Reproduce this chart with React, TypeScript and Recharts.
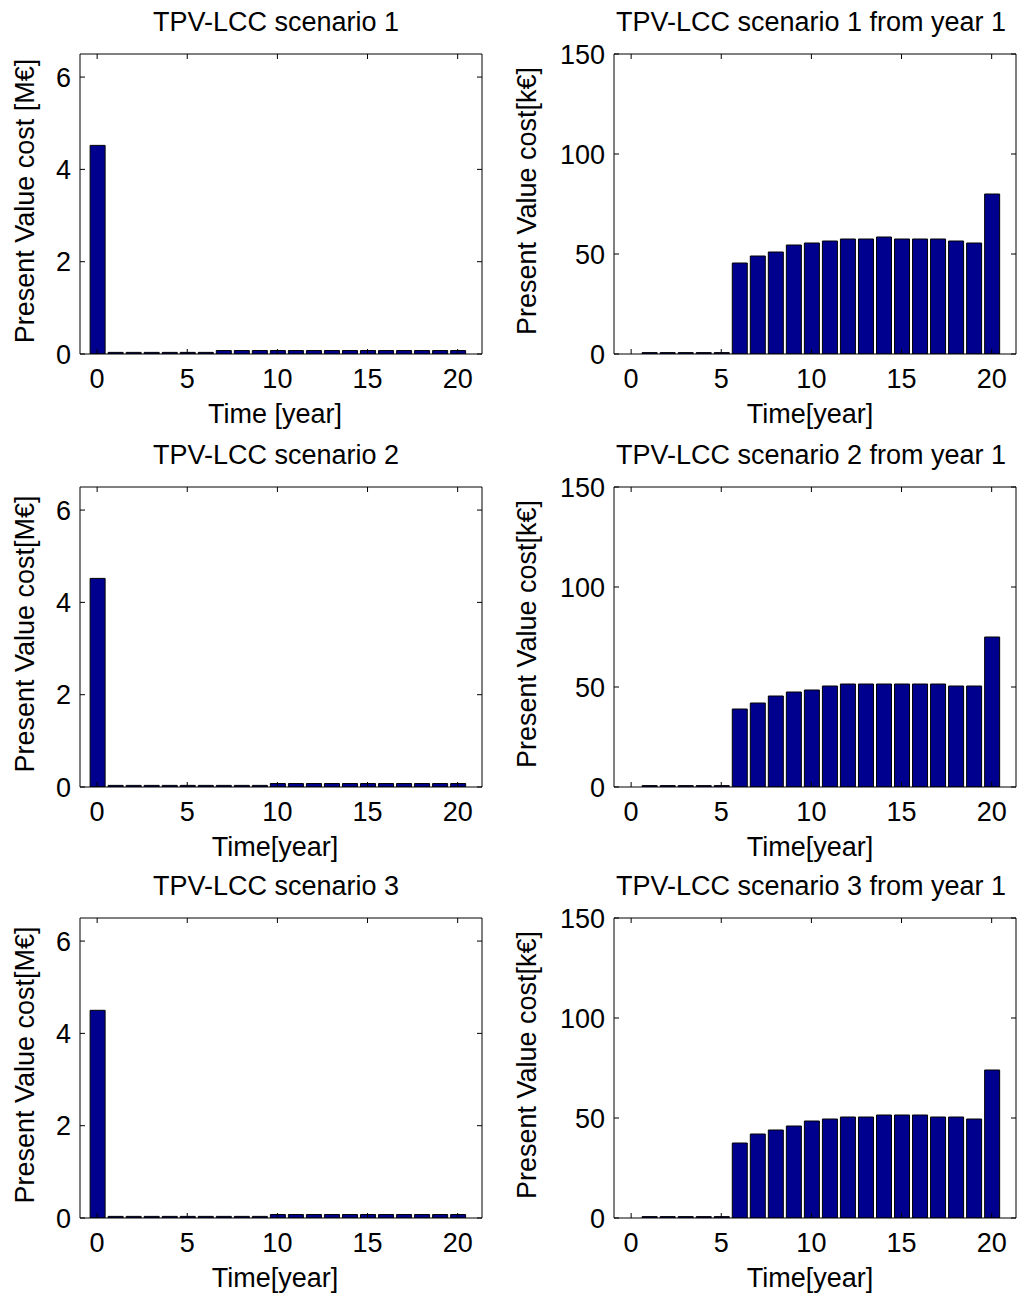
import React from 'react';
import { BarChart, Bar, XAxis, YAxis } from 'recharts';

const years = [0, 1, 2, 3, 4, 5, 6, 7, 8, 9, 10, 11, 12, 13, 14, 15, 16, 17, 18, 19, 20];
const xTicks = [0, 5, 10, 15, 20];
const mTicks = [0, 2, 4, 6];
const kTicks = [0, 50, 100, 150];

// Present value cost per year, M€ (left column)
const s1Total = [4.52, 0.035, 0.035, 0.035, 0.035, 0.035, 0.035, 0.075, 0.075, 0.075, 0.075, 0.075, 0.075, 0.075, 0.075, 0.075, 0.075, 0.075, 0.075, 0.075, 0.075];
const s2Total = [4.52, 0.035, 0.035, 0.035, 0.035, 0.035, 0.035, 0.035, 0.035, 0.035, 0.075, 0.075, 0.075, 0.075, 0.075, 0.075, 0.075, 0.075, 0.075, 0.075, 0.075];
const s3Total = [4.5, 0.035, 0.035, 0.035, 0.035, 0.035, 0.035, 0.035, 0.035, 0.035, 0.075, 0.075, 0.075, 0.075, 0.075, 0.075, 0.075, 0.075, 0.075, 0.075, 0.075];

// Present value cost from year 1, k€ (right column)
const s1From1 = [0, 0.7, 0.7, 0.7, 0.7, 0.7, 45.5, 49, 51, 54.5, 55.5, 56.5, 57.5, 57.5, 58.5, 57.5, 57.5, 57.5, 56.5, 55.5, 80];
const s2From1 = [0, 0.7, 0.7, 0.7, 0.7, 0.7, 39, 42, 45.5, 47.5, 48.5, 50.5, 51.5, 51.5, 51.5, 51.5, 51.5, 51.5, 50.5, 50.5, 75];
const s3From1 = [0, 0.7, 0.7, 0.7, 0.7, 0.7, 37.5, 42, 44, 46, 48.5, 49.5, 50.5, 50.5, 51.5, 51.5, 51.5, 50.5, 50.5, 49.5, 74];

const titlesLeft = ['TPV-LCC scenario 1', 'TPV-LCC scenario 2', 'TPV-LCC scenario 3'];
const titlesRight = ['TPV-LCC scenario 1 from year 1', 'TPV-LCC scenario 2 from year 1', 'TPV-LCC scenario 3 from year 1'];
const yLabelsLeft = ['Present Value cost [M€]', 'Present Value cost[M€]', 'Present Value cost[M€]'];
const yLabelRight = 'Present Value cost[k€]';
const xLabelsLeft = ['Time [year]', 'Time[year]', 'Time[year]'];
const xLabelRight = 'Time[year]';

const FONT = '"Liberation Sans", Arial, Helvetica, sans-serif';
const FS = 27;
const BAR_FILL = '#00008F';
const X_DOMAIN: [number, number] = [-0.95, 21.35];
const TICK_LEN = 5;

const rowTops = [54, 487, 918];
const colLefts = [80, 614];
const PLOT_W = 402;
const PLOT_H = 300;
const TOP_PAD = 20;

const toRows = (vals: number[]) => years.map((y, i) => ({ year: y, value: vals[i] }));

// Inward tick marks (MATLAB style) drawn from the tick anchor given by Recharts
const BottomTick = (props: any) => {
  const { x, y, payload } = props;
  return (
    <g>
      <line x1={x} y1={y} x2={x} y2={y - TICK_LEN} stroke="#000" strokeWidth={1} />
      <text x={x} y={y + 15} dy="0.71em" textAnchor="middle" fontSize={FS} fontFamily={FONT} fill="#000">
        {payload.value}
      </text>
    </g>
  );
};
const TopTick = (props: any) => {
  const { x, y } = props;
  return <line x1={x} y1={y} x2={x} y2={y + TICK_LEN} stroke="#000" strokeWidth={1} />;
};
const LeftTick = (props: any) => {
  const { x, y, payload } = props;
  return (
    <g>
      <line x1={x} y1={y} x2={x + TICK_LEN} y2={y} stroke="#000" strokeWidth={1} />
      <text x={x - 9} y={y} dy="0.355em" textAnchor="end" fontSize={FS} fontFamily={FONT} fill="#000">
        {payload.value}
      </text>
    </g>
  );
};
const RightTick = (props: any) => {
  const { x, y } = props;
  return <line x1={x} y1={y} x2={x - TICK_LEN} y2={y} stroke="#000" strokeWidth={1} />;
};

type PanelProps = {
  plotLeft: number;
  plotTop: number;
  values: number[];
  yDomain: [number, number];
  yTicks: number[];
};

function Panel({ plotLeft, plotTop, values, yDomain, yTicks }: PanelProps) {
  const data = toRows(values);
  const axisLine = { stroke: '#000', strokeWidth: 1 };
  return (
    <div style={{ position: 'absolute', left: plotLeft - 80, top: plotTop - TOP_PAD }}>
      <BarChart
        width={80 + PLOT_W + 1 + 2}
        height={TOP_PAD + PLOT_H + 60}
        data={data}
        margin={{ top: TOP_PAD - 1, right: 2, bottom: 0, left: 0 }}
      >
        <XAxis
          xAxisId="b"
          dataKey="year"
          type="number"
          domain={X_DOMAIN}
          ticks={xTicks}
          allowDataOverflow
          orientation="bottom"
          height={60}
          tickSize={0}
          tickMargin={0}
          tickLine={false}
          tick={<BottomTick />}
          axisLine={axisLine}
          interval={0}
        />
        <XAxis
          xAxisId="t"
          dataKey="year"
          type="number"
          domain={X_DOMAIN}
          ticks={xTicks}
          allowDataOverflow
          orientation="top"
          height={1}
          tickSize={0}
          tickMargin={0}
          tickLine={false}
          tick={<TopTick />}
          axisLine={axisLine}
          interval={0}
        />
        <YAxis
          yAxisId="l"
          type="number"
          domain={yDomain}
          ticks={yTicks}
          allowDataOverflow
          orientation="left"
          width={80}
          tickSize={0}
          tickMargin={0}
          tickLine={false}
          tick={<LeftTick />}
          axisLine={axisLine}
          interval={0}
        />
        <YAxis
          yAxisId="r"
          type="number"
          domain={yDomain}
          ticks={yTicks}
          allowDataOverflow
          orientation="right"
          width={1}
          tickSize={0}
          tickMargin={0}
          tickLine={false}
          tick={<RightTick />}
          axisLine={axisLine}
          interval={0}
        />
        <Bar
          xAxisId="b"
          yAxisId="l"
          dataKey="value"
          fill={BAR_FILL}
          stroke="#000"
          strokeWidth={1}
          barSize={15}
          isAnimationActive={false}
        />
      </BarChart>
    </div>
  );
}

function Txt({ x, y, text, rotate }: { x: number; y: number; text: string; rotate?: boolean }) {
  return (
    <div
      style={{
        position: 'absolute',
        left: x,
        top: y,
        transform: `translate(-50%, -50%)${rotate ? ' rotate(-90deg)' : ''}`,
        fontFamily: FONT,
        fontSize: FS,
        lineHeight: 1,
        whiteSpace: 'nowrap',
        color: '#000',
      }}
    >
      {text}
    </div>
  );
}

export default function App() {
  const leftVals = [s1Total, s2Total, s3Total];
  const rightVals = [s1From1, s2From1, s3From1];
  return (
    <div
      style={{
        position: 'absolute',
        left: 0,
        top: 0,
        width: 1020,
        height: 1298,
        overflow: 'hidden',
        background: '#fff',
      }}
    >
      {rowTops.map((top, r) => (
        <React.Fragment key={r}>
          <Panel plotLeft={colLefts[0]} plotTop={top} values={leftVals[r]} yDomain={[0, 6.5]} yTicks={mTicks} />
          <Panel plotLeft={colLefts[1]} plotTop={top} values={rightVals[r]} yDomain={[0, 150]} yTicks={kTicks} />
          <Txt x={276} y={top - 32} text={titlesLeft[r]} />
          <Txt x={811} y={top - 32} text={titlesRight[r]} />
          <Txt x={275} y={top + PLOT_H + 60} text={xLabelsLeft[r]} />
          <Txt x={810} y={top + PLOT_H + 60} text={xLabelRight} />
          <Txt x={25} y={top + PLOT_H / 2 - 3} text={yLabelsLeft[r]} rotate />
          <Txt x={527} y={top + PLOT_H / 2 - 3} text={yLabelRight} rotate />
        </React.Fragment>
      ))}
    </div>
  );
}
